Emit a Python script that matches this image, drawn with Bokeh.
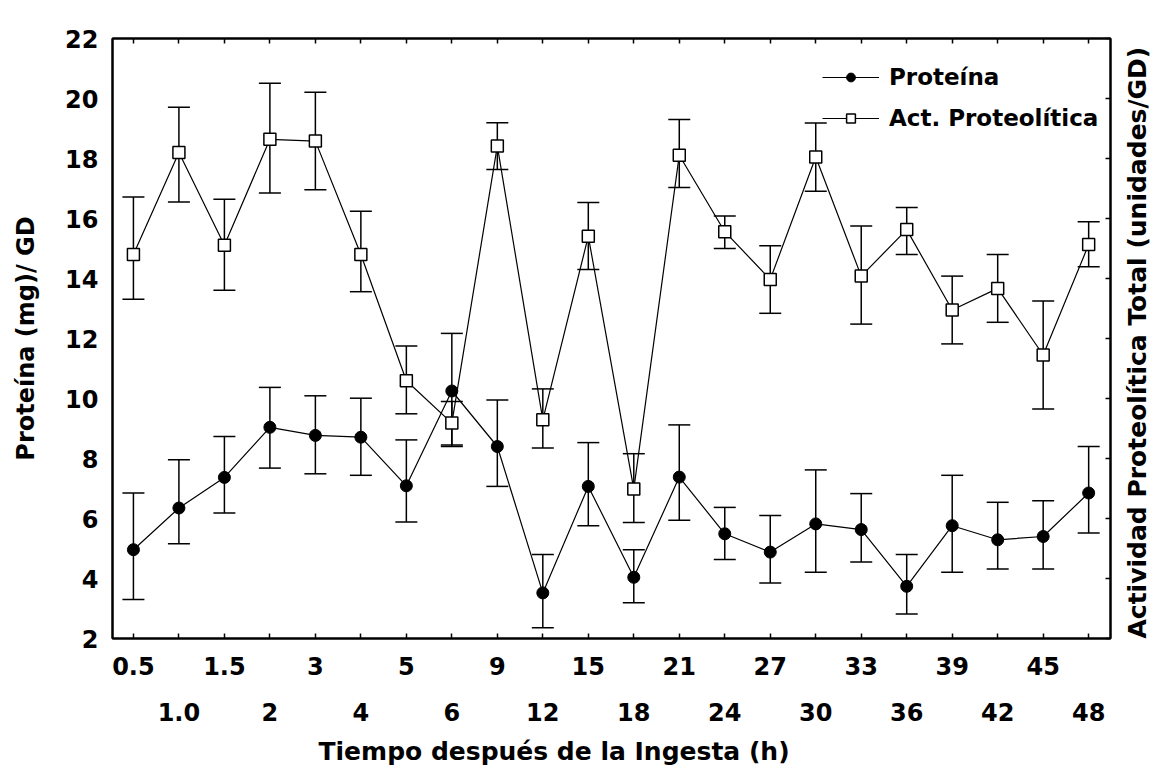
import math
from bokeh.plotting import figure
from bokeh.models import (LinearAxis, FixedTicker, Range1d, Whisker, TeeHead,
                          ColumnDataSource, Legend, LegendItem, Title)
from bokeh.embed import file_html
from bokeh.resources import INLINE

# ---- data ----
time_labels = ["0.5", "1.0", "1.5", "2", "3", "4", "5", "6", "9", "12", "15",
               "18", "21", "24", "27", "30", "33", "36", "39", "42", "45", "48"]

proteina = [4.96, 6.35, 7.37, 9.04, 8.77, 8.71, 7.09, 10.25, 8.40, 3.52, 7.07,
            4.04, 7.38, 5.49, 4.88, 5.82, 5.63, 3.74, 5.76, 5.29, 5.40, 6.85]
proteina_hi = [6.85, 7.96, 8.73, 10.37, 10.09, 10.01, 8.62, 12.17, 9.95, 4.80, 8.53,
               4.96, 9.12, 6.37, 6.10, 7.62, 6.83, 4.80, 7.44, 6.54, 6.59, 8.40]
proteina_lo = [3.30, 5.16, 6.18, 7.68, 7.49, 7.44, 5.88, 8.40, 7.07, 2.36, 5.76,
               3.19, 5.94, 4.63, 3.85, 4.21, 4.55, 2.82, 4.21, 4.32, 4.32, 5.52]

actividad = [14.80, 18.20, 15.11, 18.64, 18.58, 14.80, 10.59, 9.18, 18.42, 9.29, 15.41,
             6.98, 18.11, 15.56, 13.97, 18.05, 14.08, 15.63, 12.95, 13.67, 11.45, 15.13]
actividad_hi = [16.72, 19.71, 16.64, 20.51, 20.21, 16.24, 11.75, 9.90, 19.19, 10.32, 16.53,
                8.16, 19.30, 16.08, 15.09, 19.18, 15.75, 16.37, 14.08, 14.80, 13.25, 15.89]
actividad_lo = [13.31, 16.55, 13.61, 16.85, 16.96, 13.56, 9.49, 8.45, 17.63, 8.35, 14.30,
                5.87, 17.03, 15.00, 12.84, 16.91, 12.48, 14.80, 11.82, 12.54, 9.65, 14.39]

y_ticks = [2, 4, 6, 8, 10, 12, 14, 16, 18, 20, 22]

idx = list(range(len(time_labels)))
evens = [i for i in idx if i % 2 == 0]
odds = [i for i in idx if i % 2 == 1]
src_p = ColumnDataSource(dict(x=idx, y=proteina, hi=proteina_hi, lo=proteina_lo))
src_a = ColumnDataSource(dict(x=idx, y=actividad, hi=actividad_hi, lo=actividad_lo))

FONT = "DejaVu Sans"

p = figure(width=1169, height=776, output_backend="svg", toolbar_location=None,
           x_range=Range1d(-0.46, len(idx) - 1 + 0.48), y_range=Range1d(2, 22),
           x_axis_type=None, y_axis_type=None,
           min_border_left=112, min_border_right=59, min_border_top=38, min_border_bottom=137)
p.xgrid.visible = False
p.ygrid.visible = False
p.outline_line_color = "black"
p.outline_line_width = 2
p.background_fill_color = "white"
p.border_fill_color = "white"

# ---- axes ----
yl = LinearAxis(ticker=FixedTicker(ticks=y_ticks), axis_label="Proteína (mg)/ GD")
yl.major_tick_in = 0
yl.major_tick_out = 0
yl.minor_tick_line_color = None
yl.axis_line_width = 2
yl.major_label_standoff = 14
yl.major_label_text_font = FONT
yl.major_label_text_font_style = "bold"
yl.major_label_text_font_size = "24px"
yl.major_label_text_color = "black"
yl.axis_label_text_font = FONT
yl.axis_label_text_font_style = "bold"
yl.axis_label_text_font_size = "24px"
yl.axis_label_text_color = "black"
yl.axis_label_standoff = 22
p.add_layout(yl, "left")

yr = LinearAxis(ticker=FixedTicker(ticks=[], minor_ticks=y_ticks),
                axis_label="Actividad Proteolítica Total (unidades/GD)")
yr.major_tick_line_color = None
yr.minor_tick_in = 5
yr.minor_tick_out = 0
yr.minor_tick_line_width = 1.5
yr.minor_tick_line_color = "black"
yr.axis_line_width = 2
yr.major_label_standoff = 0
yr.axis_label_text_font = FONT
yr.axis_label_text_font_style = "bold"
yr.axis_label_text_font_size = "25px"
yr.axis_label_text_color = "black"
yr.axis_label_standoff = 27
_props = LinearAxis.properties()
if "axis_label_orientation" in _props:
    yr.axis_label_orientation = math.pi / 2
if "axis_label_align" in _props:
    yr.axis_label_align = "start"
p.add_layout(yr, "right")

xt = LinearAxis(ticker=FixedTicker(ticks=[], minor_ticks=idx))
xt.major_tick_line_color = None
xt.minor_tick_in = 5
xt.minor_tick_out = 0
xt.minor_tick_line_width = 1.5
xt.minor_tick_line_color = "black"
xt.axis_line_width = 2
xt.major_label_standoff = 0
p.add_layout(xt, "above")

xb1 = LinearAxis(ticker=FixedTicker(ticks=evens, minor_ticks=odds))
xb1.major_label_overrides = {i: time_labels[i] for i in evens}
xb1.major_tick_in = 5
xb1.major_tick_out = 0
xb1.major_tick_line_width = 1.5
xb1.minor_tick_in = 5
xb1.minor_tick_out = 0
xb1.minor_tick_line_width = 1.5
xb1.minor_tick_line_color = "black"
xb1.axis_line_width = 2
xb1.major_label_standoff = 18
xb1.major_label_text_font = FONT
xb1.major_label_text_font_style = "bold"
xb1.major_label_text_font_size = "24px"
xb1.major_label_text_color = "black"
p.add_layout(xb1, "below")

xb2 = LinearAxis(ticker=FixedTicker(ticks=odds))
xb2.major_label_overrides = {i: time_labels[i] for i in odds}
xb2.major_tick_in = 0
xb2.major_tick_out = 0
xb2.minor_tick_line_color = None
xb2.axis_line_color = None
xb2.major_label_standoff = 25
xb2.major_label_text_font = FONT
xb2.major_label_text_font_style = "bold"
xb2.major_label_text_font_size = "24px"
xb2.major_label_text_color = "black"
p.add_layout(xb2, "below")

xtitle = Title(text="Tiempo después de la Ingesta (h)", align="left", offset=206,
               text_font=FONT, text_font_style="bold", text_font_size="25px",
               text_color="black", standoff=22)
p.add_layout(xtitle, "below")

# ---- error bars ----
for src in (src_p, src_a):
    w = Whisker(source=src, base="x", upper="hi", lower="lo", dimension="height",
                line_color="black", line_width=1.5, level="underlay",
                upper_head=TeeHead(size=22, line_color="black", line_width=1.5),
                lower_head=TeeHead(size=22, line_color="black", line_width=1.5))
    p.add_layout(w)

# ---- series ----
lp = p.line("x", "y", source=src_p, line_color="black", line_width=1.2)
la = p.line("x", "y", source=src_a, line_color="black", line_width=1.2)
sp = p.scatter("x", "y", source=src_p, marker="circle", size=12,
               fill_color="black", line_color="black")
sa = p.scatter("x", "y", source=src_a, marker="square", size=12,
               fill_color="white", line_color="black", line_width=1.5)

legend = Legend(items=[LegendItem(label="Proteína", renderers=[lp, sp]),
                       LegendItem(label="Act. Proteolítica", renderers=[la, sa])],
                location=(706, 503), margin=0, padding=4, spacing=15,
                glyph_width=57, glyph_height=22, label_standoff=10,
                label_text_font=FONT, label_text_font_style="bold",
                label_text_font_size="23px", label_text_color="black",
                background_fill_alpha=0, border_line_alpha=0)
p.add_layout(legend)

open("out.html", "w").write(file_html(p, INLINE))
